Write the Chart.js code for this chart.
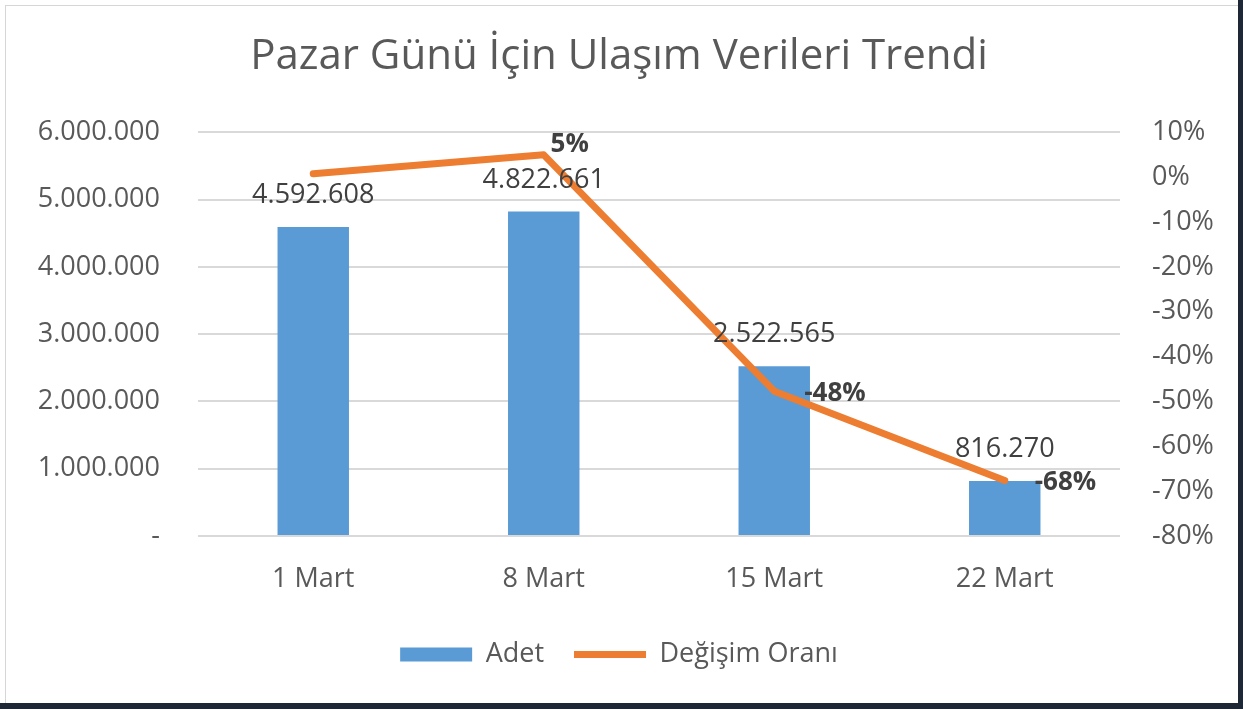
<!DOCTYPE html>
<html lang="tr">
<head>
<meta charset="utf-8">
<title>Pazar Günü İçin Ulaşım Verileri Trendi</title>
<script src="https://cdn.jsdelivr.net/npm/chart.js@4.4.1/dist/chart.umd.min.js"></script>
<style>
  html, body { margin: 0; padding: 0; }
  body { width: 1243px; height: 709px; background: #1d2735; overflow: hidden; position: relative; }
  #sheet { position: absolute; left: 0; top: 0; width: 1238px; height: 703px; background: #fff; }
  #frame { position: absolute; left: 5px; top: 5px; right: 0; bottom: 0; border-left: 1px solid #d6d6d6; border-top: 1px solid #d6d6d6; }
  canvas { position: absolute; left: 0; top: 0; }
</style>
</head>
<body>
<div id="sheet">
  <div id="frame"></div>
  <canvas id="chart" width="1238" height="703"></canvas>
</div>
<script>
// --- data ---
const categories = ['1 Mart', '8 Mart', '15 Mart', '22 Mart'];
const adet = [4592608, 4822661, 2522565, 816270];
const degisimOrani = [0.8, 5.0, -47.7, -67.6];      // percent
const showRateLabel = [false, true, true, true];

const leftTickValues = [0, 1000000, 2000000, 3000000, 4000000, 5000000, 6000000];
const leftTickLabels = ['-', '1.000.000', '2.000.000', '3.000.000', '4.000.000', '5.000.000', '6.000.000'];
const rightTickValues = [-80, -70, -60, -50, -40, -30, -20, -10, 0, 10];
const rightTickLabels = ['-80%', '-70%', '-60%', '-50%', '-40%', '-30%', '-20%', '-10%', '0%', '10%'];

const FONT = '"Open Sans", "Noto Sans", sans-serif';
const TEXT = '#595959';
const BLUE = '#5b9bd5';
const ORANGE = '#ed7d31';

function fmt(n) {
    return String(n).replace(/\B(?=(\d{3})+(?!\d))/g, '.');
}

// value labels on bars and line points
const valueLabels = {
    id: 'valueLabels',
    afterDatasetsDraw(chart) {
        const ctx = chart.ctx;
        ctx.save();
        ctx.fillStyle = '#404040';
        ctx.font = '27px ' + FONT;
        ctx.textAlign = 'center';
        ctx.textBaseline = 'alphabetic';
        chart.getDatasetMeta(0).data.forEach((bar, i) => {
            ctx.fillText(fmt(adet[i]), bar.x, bar.y - 24);
        });

        ctx.font = 'bold 26px ' + FONT;
        ctx.textBaseline = 'middle';
        const pts = chart.getDatasetMeta(1).data;
        pts.forEach((pt, i) => {
            if (!showRateLabel[i]) return;
            const text = Math.round(degisimOrani[i]) + '%';
            const prev = pts[i - 1], next = pts[i + 1];
            const peak = prev && next && pt.y < prev.y && pt.y < next.y;
            if (peak) {
                ctx.textAlign = 'center';
                ctx.fillText(text, pt.x + 26, pt.y - 10);
            } else {
                ctx.textAlign = 'left';
                ctx.fillText(text, pt.x + 30, pt.y + 2);
            }
        });
        ctx.restore();
    }
};

new Chart(document.getElementById('chart').getContext('2d'), {
    data: {
        labels: categories,
        datasets: [{
            type: 'bar',
            label: 'Adet',
            data: adet,
            backgroundColor: BLUE,
            borderWidth: 0,
            categoryPercentage: 1,
            barPercentage: 0.31,
            pointStyle: 'rect',
            yAxisID: 'y',
            order: 1,
        }, {
            type: 'line',
            label: 'Değişim Oranı',
            data: degisimOrani,
            borderColor: ORANGE,
            backgroundColor: ORANGE,
            borderWidth: 7,
            borderCapStyle: 'round',
            borderJoinStyle: 'round',
            pointRadius: 0,
            pointHoverRadius: 0,
            pointStyle: 'line',
            tension: 0,
            yAxisID: 'y1',
            order: 0,
        }]
    },
    options: {
        responsive: false,
        animation: false,
        devicePixelRatio: 1,
        layout: { padding: { left: 0, right: 0, top: 0, bottom: 25 } },
        plugins: {
            title: {
                display: true,
                text: 'Pazar Günü İçin Ulaşım Verileri Trendi',
                color: TEXT,
                font: { size: 42, family: FONT, weight: 'normal' },
                padding: { top: 32, bottom: 50 }
            },
            legend: {
                position: 'bottom',
                labels: {
                    usePointStyle: true,
                    pointStyleWidth: 72,
                    boxHeight: 14,
                    padding: 30,
                    color: TEXT,
                    font: { size: 27, family: FONT },
                    sort: (a, b) => a.datasetIndex - b.datasetIndex
                }
            },
            tooltip: { enabled: false }
        },
        scales: {
            x: {
                offset: true,
                grid: { display: false, drawTicks: false },
                border: { display: false },
                ticks: {
                    color: TEXT,
                    font: { size: 27, family: FONT },
                    padding: 27,
                    maxRotation: 0
                },
                afterFit: s => { s.height = 75; }
            },
            y: {
                position: 'left',
                min: leftTickValues[0],
                max: leftTickValues[leftTickValues.length - 1],
                grid: { color: '#d9d9d9', lineWidth: 2, drawTicks: false },
                border: { display: false },
                ticks: {
                    stepSize: leftTickValues[1] - leftTickValues[0],
                    color: TEXT,
                    font: { size: 27, family: FONT },
                    padding: 38,
                    callback: (v, i) => leftTickLabels[i]
                },
                afterFit: s => { s.width = 198; }
            },
            y1: {
                position: 'right',
                min: rightTickValues[0],
                max: rightTickValues[rightTickValues.length - 1],
                grid: { display: false, drawTicks: false },
                border: { display: false },
                ticks: {
                    stepSize: rightTickValues[1] - rightTickValues[0],
                    color: TEXT,
                    font: { size: 27, family: FONT },
                    padding: 32,
                    callback: (v, i) => rightTickLabels[i]
                },
                afterFit: s => { s.width = 118; }
            }
        }
    },
    plugins: [valueLabels]
});
</script>
</body>
</html>
